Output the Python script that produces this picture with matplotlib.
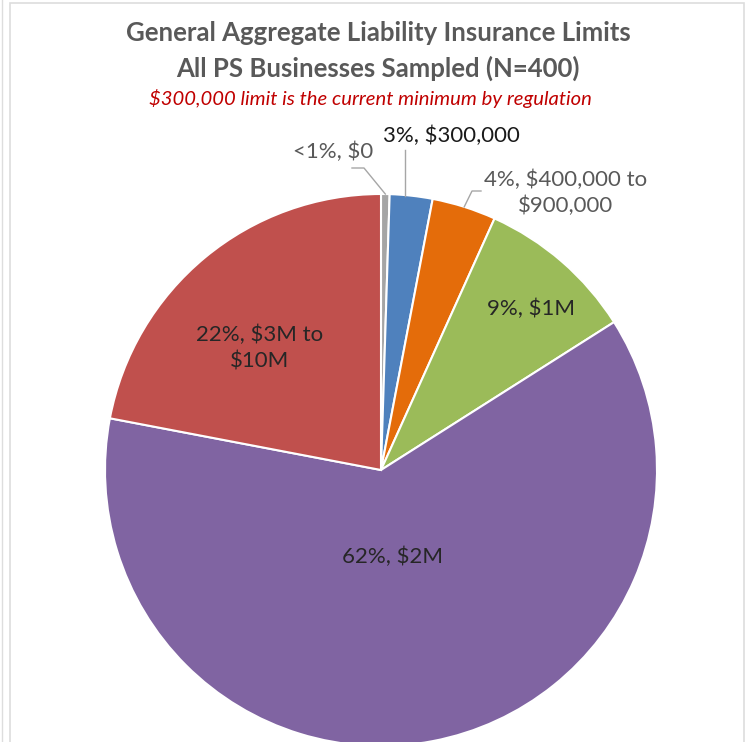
import numpy as np
import matplotlib.pyplot as plt
from matplotlib.patches import Rectangle

# General aggregate limits, number of businesses out of N=400
limits = ["$0", "$300,000", "$400,000 to\n$900,000", "$1M", "$2M", "$3M to\n$10M"]
counts = [2, 10, 15, 37, 248, 88]
colors = ["#A5A5A5", "#4F81BD", "#E46C0A", "#9BBB59", "#8064A2", "#C0504D"]
N = sum(counts)

W, H = 750, 742
fig = plt.figure(figsize=(W / 100, H / 100), dpi=100)
ax = fig.add_axes([0, 0, 1, 1])

font = "Lato"
cx, cy, r = 381, H - 470, 276

wedges, _ = ax.pie(counts, colors=colors, startangle=90, counterclock=False,
                   center=(cx, cy), radius=r, frame=True,
                   wedgeprops=dict(edgecolor="white", linewidth=1.5))
ax.set_xlim(0, W)
ax.set_ylim(0, H)
ax.set_aspect("equal")
ax.axis("off")

# frame of the chart area
ax.add_patch(Rectangle((10, -5), 734, H - 3 + 5, fill=False, edgecolor="#DDDDDD", lw=1.2))
ax.plot([1.5, 1.5], [0, H], color="#DDDDDD", lw=1)

ax.text(378, H - 33, "General Aggregate Liability Insurance Limits", ha="center", va="center",
        fontsize=18.5, fontweight="bold", color="#595959", family=font)
ax.text(378, H - 68, "All PS Businesses Sampled (N=400)", ha="center", va="center",
        fontsize=18.5, fontweight="bold", color="#595959", family=font)
ax.text(370, H - 99, "$300,000 limit is the current minimum by regulation", ha="center",
        va="center", fontsize=14.6, style="italic", color="#C00000", family=font)


def pct_text(c):
    p = 100 * c / N
    return "<1%" if p < 1 else f"{int(p + 0.5)}%"


# label layout: (x, y) in pixels from the top, colour, leader line start
label_pos = [(333, 152), (451, 136), (566, 193), (531, 309), (392, 557), (260, 348)]
label_col = ["#595959", "#1A1A1A", "#595959", "#262626", "#262626", "#262626"]
leader = [[(352, 168), (364, 168)], [(405, 150)], [(481, 191), (472, 191)], None, None, None]

for i, w in enumerate(wedges):
    x, y = label_pos[i]
    ax.text(x, H - y, f"{pct_text(counts[i])}, {limits[i]}", ha="center", va="center",
            fontsize=16, color=label_col[i], family=font, linespacing=1.35)
    if leader[i] is not None:
        ang = np.deg2rad((w.theta1 + w.theta2) / 2)
        ex, ey = cx + r * np.cos(ang), cy + r * np.sin(ang)
        pts = leader[i]
        if len(pts) == 1:
            ex = pts[0][0]
        xs = [p[0] for p in pts] + [ex]
        ys = [H - p[1] for p in pts] + [ey]
        ax.plot(xs, ys, color="#A6A6A6", lw=1)

fig.savefig("out.png", dpi=100, facecolor="white")
